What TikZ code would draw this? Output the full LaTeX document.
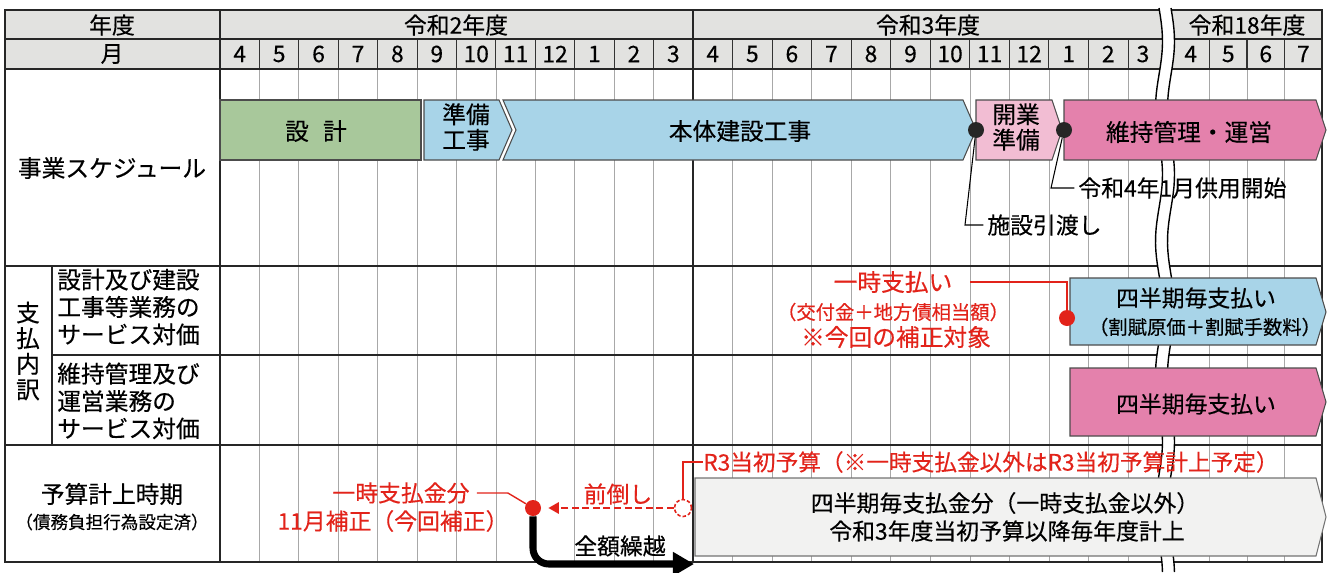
\documentclass[tikz,border=0pt]{standalone}
\usepackage{fontspec}
\setmainfont{Noto Sans CJK JP}[FakeBold=0.35]
\usetikzlibrary{arrows.meta, positioning, calc}
\definecolor{sekkeigreen}{HTML}{A8C89B}
\definecolor{koujiblue}{HTML}{A8D4E8}
\definecolor{kaigyopink}{HTML}{F2BDD3}
\definecolor{unneipink}{HTML}{E481AC}
\definecolor{hdrgray}{HTML}{E2E2E0}
\definecolor{boxgray}{HTML}{F2F2F1}
\definecolor{akared}{HTML}{E2231A}
\definecolor{gridgray}{HTML}{A8A8A8}

\begin{document}
\begin{tikzpicture}[x=0.02cm, y=-0.02cm,
	hdr/.style={font=\fontsize{13}{15}\selectfont, inner sep=0pt},
	lbl/.style={font=\fontsize{13.5}{15.5}\selectfont, inner sep=0pt},
	bartxt/.style={font=\fontsize{13.5}{14.5}\selectfont, inner sep=0pt, align=center},
	ann/.style={font=\fontsize{13}{15}\selectfont, inner sep=0pt},
	annsmall/.style={font=\fontsize{11}{13}\selectfont, inner sep=0pt},
	redann/.style={ann, text=akared},
	schedbar/.style={draw=black!70, line width=0.6pt},
	sdot/.style={circle, fill=black!85, minimum size=0.32cm, inner sep=0pt},
	rdot/.style={circle, fill=akared, minimum size=0.32cm, inner sep=0pt},
	redline/.style={draw=akared, line width=0.8pt},
	gridln/.style={draw=gridgray, line width=0.4pt},
	tblframe/.style={draw=black!85, line width=0.9pt}]
	\useasboundingbox (0,0) rectangle (1332,572);

	% 見出し行
	\fill[hdrgray] (5,10) rectangle (1322,69);

	% 月の区切り線
	\foreach \i in {1,...,11} {
		\draw[gridln] ({220+39.42*\i},69) -- ({220+39.42*\i},562);
		\draw[gridln] ({693+39.55*\i},69) -- ({693+39.55*\i},562);
		\draw[black!80, line width=0.6pt] ({220+39.42*\i},39) -- ({220+39.42*\i},69);
		\draw[black!80, line width=0.6pt] ({693+39.55*\i},39) -- ({693+39.55*\i},69);
	}
	\foreach \i in {1,2,3} {
		\draw[gridln] ({1172+37.5*\i},69) -- ({1172+37.5*\i},562);
		\draw[black!80, line width=0.6pt] ({1172+37.5*\i},39) -- ({1172+37.5*\i},69);
	}

	% 罫線
	\draw[tblframe] (5,39) -- (1322,39);
	\draw[tblframe] (5,69) -- (1322,69);
	\draw[tblframe] (5,266) -- (1322,266);
	\draw[tblframe] (52,355) -- (1322,355);
	\draw[tblframe] (5,445) -- (1322,445);
	\draw[tblframe] (52,266) -- (52,445);
	\draw[tblframe] (220,10) -- (220,562);
	\draw[tblframe] (693,10) -- (693,562);
	\draw[tblframe, line width=1.2pt] (5,10) rectangle (1322,562);

	% 省略の波線
	\fill[white] plot[domain=8:572, samples=80] ({1159+3.5*sin((\x-8)*2.7)},\x)
		-- plot[domain=572:8, samples=80] ({1171+3.5*sin((\x-8)*2.7)},\x) -- cycle;
	\draw[line width=0.8pt] plot[domain=8:572, samples=80] ({1159+3.5*sin((\x-8)*2.7)},\x);
	\draw[line width=0.8pt] plot[domain=8:572, samples=80] ({1171+3.5*sin((\x-8)*2.7)},\x);

	% 見出し
	\node[hdr] (nendo) at (112,25) {年度};
	\node[hdr] (tsuki) at (112,54) {月};
	\node[hdr] (r2) at (456,25) {令和2年度};
	\node[hdr] (r3) at (928,25) {令和3年度};
	\node[hdr] (r18) at (1247,25) {令和18年度};
	\foreach \m [count=\i from 0] in {4,5,6,7,8,9,10,11,12,1,2,3}
		\node[hdr] (ma\i) at ({220+39.42*(\i+0.5)},54) {\m};
	\foreach \m [count=\i from 0] in {4,5,6,7,8,9,10,11,12,1,2}
		\node[hdr] (mb\i) at ({693+39.55*(\i+0.5)},54) {\m};
	\node[hdr] (mb11) at (1143,54) {3};
	\foreach \m [count=\i from 0] in {4,5,6,7}
		\node[hdr] (mc\i) at ({1172+37.5*(\i+0.5)},54) {\m};

	% 左の項目
	\node[lbl] (jigyo) at (112,168) {事業スケジュール};
	\node[lbl, align=center, font=\fontsize{13.5}{14.6}\selectfont] (shiharai) at (28,351) {支\\払\\内\\訳};
	\node[lbl, anchor=west, align=left, font=\fontsize{13.5}{15.6}\selectfont] (kensetsu) at (57,307) {設計及び建設\\工事等業務の\\サービス対価};
	\node[lbl, anchor=west, align=left, font=\fontsize{13.5}{15.6}\selectfont] (iji) at (57,401) {維持管理及び\\運営業務の\\サービス対価};
	\node[lbl] (yosan) at (112,494) {予算計上時期};
	\node[lbl, font=\fontsize{10}{12}\selectfont] (saimu) at (112,522) {（債務負担行為設定済）};

	% 事業スケジュール
	\filldraw[schedbar, fill=sekkeigreen] (220,100) rectangle (421,160);
	\filldraw[schedbar, fill=koujiblue] (424,100) -- (499,100) -- (512,130) -- (499,160) -- (424,160) -- cycle;
	\filldraw[schedbar, fill=koujiblue] (503,100) -- (963,100) -- (976,130) -- (963,160) -- (503,160) -- (516,130) -- cycle;
	\filldraw[schedbar, fill=kaigyopink] (976,100) -- (1052,100) -- (1062,130) -- (1052,160) -- (976,160) -- cycle;
	\filldraw[schedbar, fill=unneipink] (1064,100) -- (1316,100) -- (1326,130) -- (1316,160) -- (1064,160) -- cycle;
	\node[bartxt] (sekkei) at (316,131) {設\hspace{0.6em}計};
	\node[bartxt] (junbi) at (466,127) {準備\\工事};
	\node[bartxt] (hontai) at (740,131) {本体建設工事};
	\node[bartxt] (kaigyo) at (1016,127) {開業\\準備};
	\node[bartxt] (unei) at (1189,132) {維持管理・運営};
	\node[sdot] (hd1) at (976,130) {};
	\node[sdot] (hd2) at (1064,130) {};
	\node[ann, anchor=west] (kyoyo) at (1078,188) {令和4年1月供用開始};
	\node[ann, anchor=west] (hikiw) at (987,225) {施設引渡し};
	\draw[line width=0.6pt, shorten >=2pt] (hd1) -- ($(hd1 |- hikiw.west)+(-11,0)$) -- (hikiw.west);
	\draw[line width=0.6pt, shorten >=2pt] (hd2) -- ($(hd2 |- kyoyo.west)+(-13,0)$) -- (kyoyo.west);

	% 支払内訳
	\filldraw[schedbar, fill=koujiblue] (1070,278) -- (1316,278) -- (1326,312) -- (1316,345) -- (1070,345) -- cycle;
	\node[ann] (shihanki1) at (1196,298) {四半期毎支払い};
	\node[annsmall] (kappu) at (1205,327) {（割賦原価＋割賦手数料）};
	\node[redann, font=\fontsize{13.5}{15}\selectfont] (ichiA) at (893,282) {一時支払い};
	\node[annsmall, text=akared] (ichiB) at (893,312) {（交付金＋地方債相当額）};
	\node[redann, font=\fontsize{13.5}{15}\selectfont] (ichiC) at (896,337) {※今回の補正対象};
	\node[rdot] (rd1) at (1067,318) {};
	\draw[redline, shorten <=10pt] (ichiA.east) -| (rd1);
	\filldraw[schedbar, fill=unneipink] (1070,368) -- (1316,368) -- (1326,402) -- (1316,436) -- (1070,436) -- cycle;
	\node[ann] (shihanki2) at (1196,404) {四半期毎支払い};

	% 予算計上時期
	\filldraw[draw=black!55, line width=0.6pt, fill=boxgray] (695,478) -- (1316,478) -- (1326,517) -- (1316,556) -- (695,556) -- cycle;
	\node[ann] (maibun) at (1005,503) {四半期毎支払金分（一時支払金以外）};
	\node[ann] (tosho) at (1007,531) {令和3年度当初予算以降毎年度計上};
	\node[redann] (kinbun) at (401,493) {一時支払金分};
	\node[redann] (hosei) at (393,521) {11月補正（今回補正）};
	\node[redann] (maedaoshi) at (618,494) {前倒し};
	\node[ann] (kurikoshi) at (620,546) {全額繰越};
	\node[redann, anchor=west, font=\fontsize{12.9}{15}\selectfont] (r3yosan) at (703,462) {R3当初予算（※一時支払金以外はR3当初予算計上予定）};
	\node[rdot] (rd2) at (533,508) {};
	\node[circle, draw=akared, dash pattern=on 2pt off 1.2pt, fill=white, minimum size=0.34cm, inner sep=0pt, line width=0.9pt] (rd3) at (683,508) {};
	\draw[redline, shorten <=4pt] (kinbun.east) -- ++(38,0) -- (rd2);
	\draw[redline] (rd3) |- (r3yosan.west);
	\draw[redline, line width=1.1pt, dash pattern=on 4pt off 2pt, -{Triangle[length=6pt,width=6.5pt]}, shorten >=4pt] (rd3) -- (rd2);
	\coordinate (kend) at (694,564);
	\draw[line width=4pt, rounded corners=9pt, -{Triangle[length=12pt,width=13pt]}] (rd2) |- (kend);
\end{tikzpicture}
\end{document}
